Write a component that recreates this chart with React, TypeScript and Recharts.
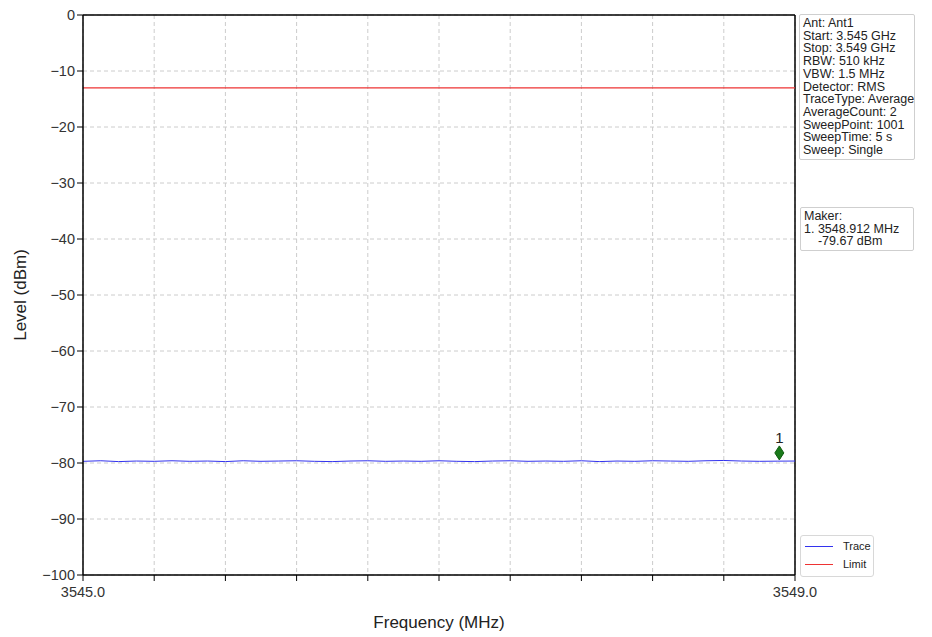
import React from "react";
import {
  Line,
  XAxis,
  YAxis,
  CartesianGrid,
  ReferenceLine,
  Scatter,
  ComposedChart,
} from "recharts";

const xTicks = [3545, 3545.4, 3545.8, 3546.2, 3546.6, 3547, 3547.4, 3547.8, 3548.2, 3548.6, 3549];
const xTickLabels: Record<string, string> = { "3545": "3545.0", "3549": "3549.0" };
const yTicks = [0, -10, -20, -30, -40, -50, -60, -70, -80, -90, -100];

const traceFreq = [
  3545.0, 3545.1, 3545.2, 3545.3, 3545.4, 3545.5, 3545.6, 3545.7, 3545.8, 3545.9,
  3546.0, 3546.1, 3546.2, 3546.3, 3546.4, 3546.5, 3546.6, 3546.7, 3546.8, 3546.9,
  3547.0, 3547.1, 3547.2, 3547.3, 3547.4, 3547.5, 3547.6, 3547.7, 3547.8, 3547.9,
  3548.0, 3548.1, 3548.2, 3548.3, 3548.4, 3548.5, 3548.6, 3548.7, 3548.8, 3548.9, 3549.0,
];
const traceLevel = [
  -79.7, -79.6, -79.75, -79.65, -79.7, -79.6, -79.7, -79.65, -79.75, -79.6,
  -79.7, -79.65, -79.6, -79.7, -79.75, -79.65, -79.6, -79.7, -79.65, -79.7,
  -79.6, -79.7, -79.75, -79.65, -79.6, -79.7, -79.65, -79.7, -79.6, -79.75,
  -79.65, -79.7, -79.6, -79.65, -79.7, -79.6, -79.55, -79.65, -79.7, -79.67, -79.65,
];
const limitLevel = -13;
const markerFreq = 3548.912;
const markerDrawLevel = -78.2;
const markerLabel = "1";

const infoLines = [
  "Ant: Ant1",
  "Start: 3.545 GHz",
  "Stop: 3.549 GHz",
  "RBW: 510 kHz",
  "VBW: 1.5 MHz",
  "Detector: RMS",
  "TraceType: Average",
  "AverageCount: 2",
  "SweepPoint: 1001",
  "SweepTime: 5 s",
  "Sweep: Single",
];
const makerLines = ["Maker:", "1. 3548.912 MHz", "    -79.67 dBm"];
const legendItems = [
  { name: "Trace", color: "#3333ee" },
  { name: "Limit", color: "#ee3333" },
];

const traceData = traceFreq.map((f, i) => ({ f, trace: traceLevel[i] }));
const markerData = [{ f: markerFreq, m: markerDrawLevel }];

const FONT = "'Liberation Sans', Arial, sans-serif";

const Diamond = (props: any) => {
  const { cx, cy } = props;
  if (cx == null || cy == null) return null;
  return (
    <g>
      <path
        d={`M${cx},${cy - 7} L${cx + 4.5},${cy} L${cx},${cy + 7} L${cx - 4.5},${cy} Z`}
        fill="#1a7a1a"
        stroke="#0d5c0d"
      />
      <text x={cx} y={cy - 10} textAnchor="middle" fontSize={15} fontFamily={FONT} fill="#222">
        {markerLabel}
      </text>
    </g>
  );
};

const boxStyle: React.CSSProperties = {
  position: "absolute",
  border: "1px solid #cfcfcf",
  borderRadius: 2,
  background: "#fff",
  fontFamily: FONT,
  fontSize: 12.5,
  lineHeight: "12.7px",
  color: "#222",
  padding: "2px 3px",
  whiteSpace: "pre",
};

export default function App() {
  return (
    <div style={{ position: "absolute", left: 0, top: 0, width: 932, height: 637, background: "#fff" }}>
      <ComposedChart
        width={932}
        height={637}
        margin={{ top: 15, right: 137, left: 0, bottom: 0 }}
        data={traceData}
      >
        <CartesianGrid stroke="#cccccc" strokeDasharray="4 3" />
        <XAxis
          dataKey="f"
          type="number"
          domain={[3545, 3549]}
          ticks={xTicks}
          interval={0}
          height={62}
          tickSize={6}
          tickLine={{ stroke: "#000" }}
          axisLine={{ stroke: "#000", strokeWidth: 1.5 }}
          tickFormatter={(v: number) => xTickLabels[String(v)] ?? ""}
          tick={{ fill: "#333", fontSize: 14.5, fontFamily: FONT, dy: 4 }}
          allowDataOverflow
          label={{
            value: "Frequency (MHz)",
            position: "insideBottom",
            offset: 9,
            fill: "#222",
            fontSize: 17,
            fontFamily: FONT,
          }}
        />
        <YAxis
          type="number"
          domain={[-100, 0]}
          ticks={yTicks}
          interval={0}
          width={83}
          tickSize={6}
          tickLine={{ stroke: "#000" }}
          axisLine={{ stroke: "#000", strokeWidth: 1.5 }}
          tick={{ fill: "#333", fontSize: 14.5, fontFamily: FONT }}
          tickFormatter={(v: number) => (v < 0 ? "\u2212" + Math.abs(v) : String(v))}
          label={{
            value: "Level (dBm)",
            angle: -90,
            position: "insideLeft",
            offset: 20,
            fill: "#222",
            fontSize: 17,
            fontFamily: FONT,
            style: { textAnchor: "middle" },
          }}
        />
        <ReferenceLine y={0} stroke="#000" strokeWidth={1.5} />
        <ReferenceLine x={3549} stroke="#000" strokeWidth={1.5} />
        <ReferenceLine y={limitLevel} stroke="#ee3333" strokeWidth={1.3} />
        <Line
          dataKey="trace"
          stroke="#3333ee"
          strokeWidth={1}
          dot={false}
          isAnimationActive={false}
        />
        <Scatter
          data={markerData}
          dataKey="m"
          shape={<Diamond />}
          isAnimationActive={false}
        />
      </ComposedChart>

      <div style={{ ...boxStyle, left: 799, top: 14, width: 108 }}>
        {infoLines.join("\n")}
      </div>
      <div style={{ ...boxStyle, left: 800, top: 207, width: 106 }}>
        {makerLines.join("\n")}
      </div>
      <div
        style={{
          position: "absolute",
          left: 800,
          top: 535,
          width: 72,
          height: 40,
          border: "1px solid #d8d8d8",
          borderRadius: 3,
          background: "#fff",
          fontFamily: FONT,
          fontSize: 11,
          color: "#222",
        }}
      >
        {legendItems.map((it, i) => (
          <div key={it.name} style={{ position: "absolute", left: 4, top: 4 + i * 18, display: "flex", alignItems: "center" }}>
            <div style={{ width: 28, height: 0, borderTop: `1.5px solid ${it.color}`, marginRight: 10 }} />
            <span>{it.name}</span>
          </div>
        ))}
      </div>
    </div>
  );
}
